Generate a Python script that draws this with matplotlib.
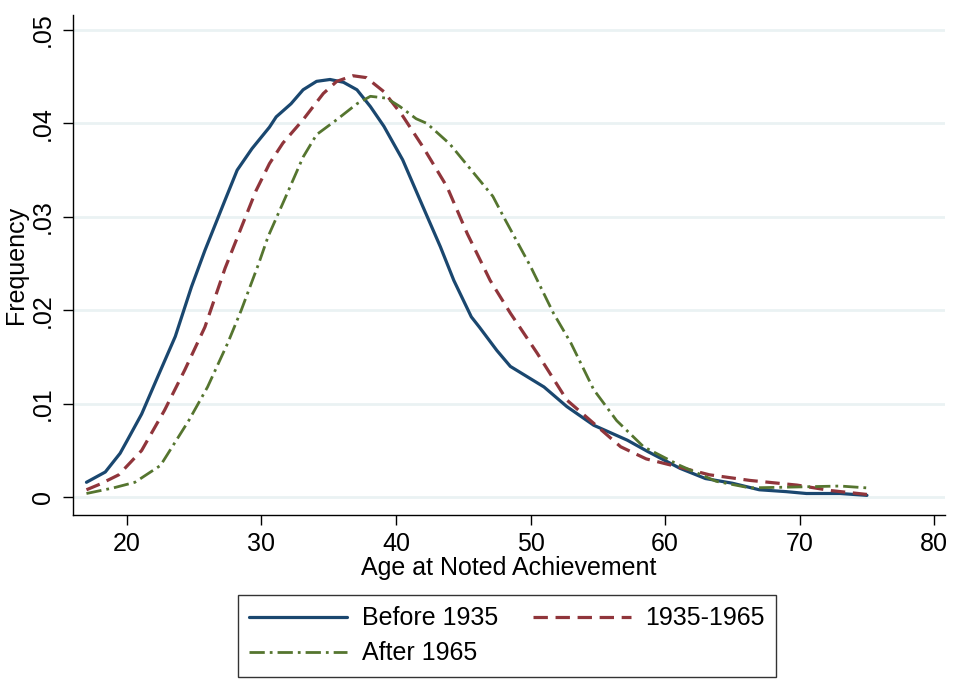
import matplotlib.pyplot as plt
from matplotlib.ticker import FuncFormatter

plt.rcParams["font.family"] = ["Liberation Sans", "DejaVu Sans"]

# values
age_before = [17, 18.4, 19.5, 20, 21.1, 22.3, 23.6, 24.8, 25.8, 27.3, 28.2, 29.3, 30.6, 31.1,
              32.2, 33.1, 34.1, 35.1, 36.1, 37.1, 38.1, 39.1, 40.5, 42.0, 43.3, 44.3, 45.6,
              46.2, 47.5, 48.5, 51.0, 52.7, 54.7, 57.2, 58.7, 61.1, 63.0, 65.0, 67.0, 69.0,
              70.5, 73.0, 75.0]
freq_before = [0.0016, 0.0027, 0.0047, 0.0060, 0.0089, 0.0129, 0.0172, 0.0225, 0.0264, 0.0318,
               0.0350, 0.0373, 0.0396, 0.0407, 0.0421, 0.0436, 0.0445, 0.0447, 0.0444, 0.0436,
               0.0418, 0.0397, 0.0361, 0.0311, 0.0268, 0.0232, 0.0193, 0.0182, 0.0157, 0.0140,
               0.0118, 0.0097, 0.0077, 0.0061, 0.0049, 0.0031, 0.0020, 0.0015, 0.0008, 0.0006,
               0.0004, 0.0004, 0.0002]

age_mid = [17, 18, 19.4, 21.1, 22.8, 24.3, 25.8, 27.3, 28.6, 29.6, 30.6, 31.6, 33.1, 34.6, 35.6,
           36.8, 37.8, 39.1, 40.5, 42.0, 43.8, 45.3, 47.0, 48.5, 50.5, 52.7, 54.7, 56.7, 58.6,
           61.1, 63.3, 66.3, 69.8, 72.4, 75.0]
freq_mid = [0.0008, 0.0014, 0.0024, 0.0050, 0.0093, 0.0136, 0.0182, 0.0245, 0.0292, 0.0328,
            0.0357, 0.0379, 0.0404, 0.0432, 0.0445, 0.0451, 0.0449, 0.0434, 0.0408, 0.0375,
            0.0332, 0.0282, 0.0232, 0.0197, 0.0154, 0.0104, 0.0079, 0.0054, 0.0041, 0.0032,
            0.0024, 0.0018, 0.0013, 0.0007, 0.0003]

age_after = [17, 18, 19, 20.6, 22.5, 24.6, 26.0, 27.5, 28.5, 29.8, 30.5, 31.7, 33.1, 34.1, 35.6,
             37.1, 38.1, 39.3, 40.3, 41.5, 42.3, 44.0, 46.0, 47.2, 48.0, 50.0, 51.7, 53.0,
             54.7, 56.4, 58.4, 61.1, 63.8, 66.3, 69.8, 73.0, 75.0]
freq_after = [0.0004, 0.0007, 0.0010, 0.0016, 0.0034, 0.0082, 0.0118, 0.0165, 0.0200, 0.0250,
              0.0279, 0.0318, 0.0364, 0.0388, 0.0404, 0.0421, 0.0429, 0.0427, 0.0418, 0.0405,
              0.0400, 0.0378, 0.0343, 0.0322, 0.0300, 0.0247, 0.0197, 0.0165, 0.0115, 0.0082,
              0.0054, 0.0034, 0.0017, 0.0010, 0.0011, 0.0012, 0.0010]

x_ticks = [20, 30, 40, 50, 60, 70, 80]
y_ticks = [0, 0.01, 0.02, 0.03, 0.04, 0.05]

fig = plt.figure(figsize=(9.7, 6.94), dpi=100)
ax = fig.add_axes([73 / 970, 1 - 515 / 694, (945 - 73) / 970, (515 - 15) / 694])

for y in y_ticks:
    ax.axhline(y, color="#eaf2f3", linewidth=2, zorder=0)

h_before, = ax.plot(age_before, freq_before, color="#1a476f", linewidth=2.3,
                    solid_capstyle="round", label="Before 1935")
h_mid, = ax.plot(age_mid, freq_mid, color="#90353b", linewidth=2.3,
                 linestyle=(0, (4.5, 2.4)), label="1935-1965")
h_after, = ax.plot(age_after, freq_after, color="#55752f", linewidth=2.0,
                   linestyle=(0, (5.5, 1.8, 1.0, 1.8)), label="After 1965")

ax.set_xlim(16.0, 80.8)
ax.set_ylim(-0.0019, 0.0516)
ax.set_xticks(x_ticks)
ax.set_yticks(y_ticks)
ax.yaxis.set_major_formatter(FuncFormatter(lambda v, p: "0" if v == 0 else f"{v:.2f}".lstrip("0")))
for lab in ax.get_yticklabels():
    lab.set_rotation(90)
    lab.set_va("center")
ax.tick_params(axis="both", direction="out", length=7, width=1, labelsize=18, colors="black")
ax.tick_params(axis="x", pad=5)
ax.tick_params(axis="y", pad=6)
ax.spines["top"].set_visible(False)
ax.spines["right"].set_visible(False)
ax.spines["left"].set_linewidth(1)
ax.spines["bottom"].set_linewidth(1)

ax.set_xlabel("Age at Noted Achievement", fontsize=18, labelpad=0)
ax.set_ylabel("Frequency", fontsize=18, labelpad=2)

# column-major fill, so this order gives rows: Before / 1935-1965, After
leg = fig.legend([h_before, h_after, h_mid], ["Before 1935", "After 1965", "1935-1965"],
                 loc="upper left", bbox_to_anchor=(238 / 970, 1 - 595 / 694), ncol=2,
                 fontsize=18, frameon=True, fancybox=False, edgecolor="black",
                 handlelength=3.9, handletextpad=0.6, columnspacing=1.4,
                 borderpad=0.45, borderaxespad=0, labelspacing=0.45)
leg.get_frame().set_linewidth(1)

fig.savefig("out.png", dpi=100, facecolor="white")
